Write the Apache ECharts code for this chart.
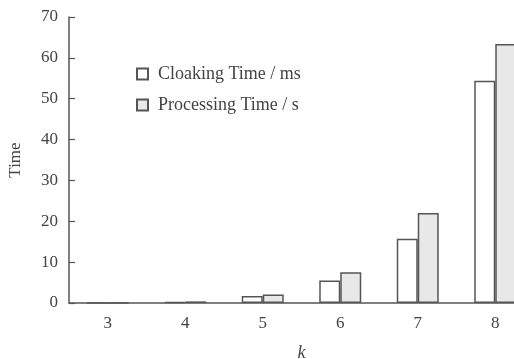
<!DOCTYPE html>
<html>
<head>
<meta charset="utf-8">
<script src="https://cdn.jsdelivr.net/npm/echarts@6/dist/echarts.min.js"></script>
<style>
  html, body { margin: 0; padding: 0; background: #fff; }
  #chart { width: 514px; height: 359px; }
</style>
</head>
<body>
<div id="chart"></div>
<script>
// k values along the x axis
const categories = ['3', '4', '5', '6', '7', '8'];
// bar heights
const cloakingTime = [0.05, 0.3, 1.7, 5.5, 15.7, 54.4];
const processingTime = [0.05, 0.4, 2.1, 7.5, 22.0, 63.4];
const seriesNames = ['Cloaking Time / ms', 'Processing Time / s'];

const font = 'Liberation Serif';
const axisColor = '#555';

const chart = echarts.init(document.getElementById('chart'));
chart.setOption({
    backgroundColor: '#fff',
    animation: false,
    textStyle: { fontFamily: font },
    grid: { left: 69, top: 17, height: 286, width: 465, outerBoundsMode: 'none' },
    legend: {
        orient: 'vertical',
        left: 131,
        top: 60,
        itemWidth: 11,
        itemHeight: 11,
        itemGap: 13,
        icon: 'rect',
        textStyle: { fontFamily: font, fontSize: 18, color: '#444', padding: [0, 0, 0, 5] },
        data: seriesNames
    },
    xAxis: {
        type: 'category',
        data: categories,
        name: 'k',
        nameLocation: 'middle',
        nameGap: 41,
        nameTextStyle: { fontFamily: font, fontStyle: 'italic', fontSize: 18, color: '#444' },
        axisLine: { lineStyle: { color: axisColor, width: 1.5 } },
        axisTick: { show: false },
        axisLabel: { fontFamily: font, fontSize: 17, color: '#444', margin: 12 }
    },
    yAxis: {
        type: 'value',
        min: 0,
        max: 70,
        interval: 10,
        name: 'Time',
        nameLocation: 'middle',
        nameGap: 45,
        nameTextStyle: { fontFamily: font, fontSize: 17, color: '#444' },
        axisLine: { show: true, lineStyle: { color: axisColor, width: 1.5 } },
        axisTick: { show: true, inside: true, length: 6, lineStyle: { color: axisColor, width: 1.2 } },
        splitLine: { show: false },
        axisLabel: { fontFamily: font, fontSize: 17, color: '#444', margin: 11 }
    },
    series: [
        {
            name: seriesNames[0],
            type: 'bar',
            data: cloakingTime,
            barWidth: 21,
            barGap: '0%',
            itemStyle: { color: '#ffffff', borderColor: '#555', borderWidth: 1.5 }
        },
        {
            name: seriesNames[1],
            type: 'bar',
            data: processingTime,
            barWidth: 21,
            barGap: '0%',
            itemStyle: { color: '#e8e8e8', borderColor: '#555', borderWidth: 1.5 }
        }
    ]
});
</script>
</body>
</html>
